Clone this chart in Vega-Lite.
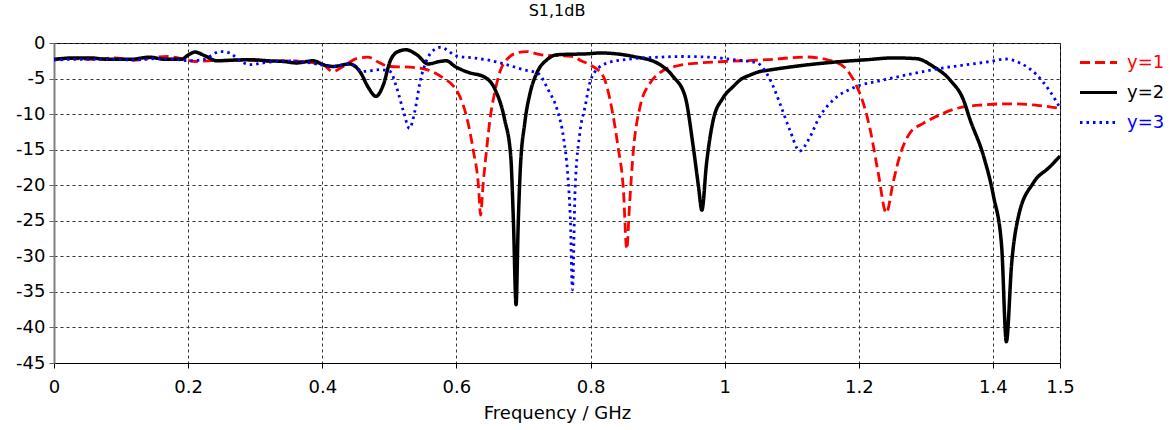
{
  "$schema": "https://vega.github.io/schema/vega-lite/v6.json",
  "width": 1006,
  "height": 320,
  "autosize": {"type": "none"},
  "padding": {"left": 54, "top": 43, "right": 113, "bottom": 67},
  "background": "white",
  "title": {"text": "S1,1dB", "fontSize": 16, "font": "DejaVu Sans", "fontWeight": "normal", "color": "black", "frame": "group", "anchor": "middle", "offset": 15},
  "config": {"view": {"stroke": "black", "strokeWidth": 1}, "font": "DejaVu Sans"},
  "data": {"values": [
    {"f": 0, "s": "y=1", "db": -2.3}, {"f": 0.03, "s": "y=1", "db": -2.2}, {"f": 0.06, "s": "y=1", "db": -2.3}, {"f": 0.09, "s": "y=1", "db": -2.1}, {"f": 0.12, "s": "y=1", "db": -2.4}, {"f": 0.15, "s": "y=1", "db": -2.0}, {"f": 0.17, "s": "y=1", "db": -1.9}, {"f": 0.19, "s": "y=1", "db": -2.2}, {"f": 0.21, "s": "y=1", "db": -2.6}, {"f": 0.23, "s": "y=1", "db": -2.5}, {"f": 0.26, "s": "y=1", "db": -2.4}, {"f": 0.29, "s": "y=1", "db": -2.4}, {"f": 0.32, "s": "y=1", "db": -2.6}, {"f": 0.35, "s": "y=1", "db": -2.5}, {"f": 0.38, "s": "y=1", "db": -2.7}, {"f": 0.4, "s": "y=1", "db": -3.0}, {"f": 0.416, "s": "y=1", "db": -4.0}, {"f": 0.431, "s": "y=1", "db": -3.3}, {"f": 0.451, "s": "y=1", "db": -2.2}, {"f": 0.468, "s": "y=1", "db": -2.0}, {"f": 0.486, "s": "y=1", "db": -2.8}, {"f": 0.5, "s": "y=1", "db": -3.3}, {"f": 0.531, "s": "y=1", "db": -3.4}, {"f": 0.556, "s": "y=1", "db": -3.75}, {"f": 0.58, "s": "y=1", "db": -4.9}, {"f": 0.595, "s": "y=1", "db": -6.0}, {"f": 0.605, "s": "y=1", "db": -7.5}, {"f": 0.615, "s": "y=1", "db": -10.3}, {"f": 0.625, "s": "y=1", "db": -15}, {"f": 0.633, "s": "y=1", "db": -20.2}, {"f": 0.636, "s": "y=1", "db": -24.2}, {"f": 0.64, "s": "y=1", "db": -19.7}, {"f": 0.645, "s": "y=1", "db": -15}, {"f": 0.65, "s": "y=1", "db": -10.8}, {"f": 0.658, "s": "y=1", "db": -6.6}, {"f": 0.665, "s": "y=1", "db": -4.0}, {"f": 0.675, "s": "y=1", "db": -2.35}, {"f": 0.69, "s": "y=1", "db": -1.4}, {"f": 0.705, "s": "y=1", "db": -1.2}, {"f": 0.725, "s": "y=1", "db": -1.65}, {"f": 0.774, "s": "y=1", "db": -1.9}, {"f": 0.786, "s": "y=1", "db": -2.5}, {"f": 0.799, "s": "y=1", "db": -3.05}, {"f": 0.819, "s": "y=1", "db": -4.7}, {"f": 0.831, "s": "y=1", "db": -8.9}, {"f": 0.841, "s": "y=1", "db": -14.6}, {"f": 0.849, "s": "y=1", "db": -20.6}, {"f": 0.854, "s": "y=1", "db": -29.0}, {"f": 0.858, "s": "y=1", "db": -23}, {"f": 0.864, "s": "y=1", "db": -15}, {"f": 0.874, "s": "y=1", "db": -8.9}, {"f": 0.889, "s": "y=1", "db": -5.6}, {"f": 0.903, "s": "y=1", "db": -4.2}, {"f": 0.93, "s": "y=1", "db": -3.2}, {"f": 0.963, "s": "y=1", "db": -2.8}, {"f": 1.0, "s": "y=1", "db": -2.6}, {"f": 1.063, "s": "y=1", "db": -2.35}, {"f": 1.122, "s": "y=1", "db": -1.97}, {"f": 1.162, "s": "y=1", "db": -2.6}, {"f": 1.182, "s": "y=1", "db": -3.75}, {"f": 1.197, "s": "y=1", "db": -6.1}, {"f": 1.204, "s": "y=1", "db": -7.7}, {"f": 1.217, "s": "y=1", "db": -12.2}, {"f": 1.229, "s": "y=1", "db": -18.3}, {"f": 1.241, "s": "y=1", "db": -23.9}, {"f": 1.251, "s": "y=1", "db": -19.7}, {"f": 1.261, "s": "y=1", "db": -15.9}, {"f": 1.276, "s": "y=1", "db": -12.7}, {"f": 1.296, "s": "y=1", "db": -11.3}, {"f": 1.321, "s": "y=1", "db": -10.1}, {"f": 1.346, "s": "y=1", "db": -9.2}, {"f": 1.386, "s": "y=1", "db": -8.7}, {"f": 1.42, "s": "y=1", "db": -8.55}, {"f": 1.46, "s": "y=1", "db": -8.7}, {"f": 1.5, "s": "y=1", "db": -9.2},

    {"f": 0, "s": "y=2", "db": -2.3}, {"f": 0.03, "s": "y=2", "db": -2.1}, {"f": 0.054, "s": "y=2", "db": -2.1}, {"f": 0.08, "s": "y=2", "db": -2.3}, {"f": 0.113, "s": "y=2", "db": -2.3}, {"f": 0.143, "s": "y=2", "db": -2.0}, {"f": 0.165, "s": "y=2", "db": -2.3}, {"f": 0.19, "s": "y=2", "db": -2.3}, {"f": 0.2, "s": "y=2", "db": -1.7}, {"f": 0.21, "s": "y=2", "db": -1.27}, {"f": 0.225, "s": "y=2", "db": -1.8}, {"f": 0.243, "s": "y=2", "db": -2.5}, {"f": 0.27, "s": "y=2", "db": -2.4}, {"f": 0.292, "s": "y=2", "db": -2.35}, {"f": 0.32, "s": "y=2", "db": -2.5}, {"f": 0.342, "s": "y=2", "db": -2.6}, {"f": 0.362, "s": "y=2", "db": -2.8}, {"f": 0.387, "s": "y=2", "db": -2.5}, {"f": 0.4, "s": "y=2", "db": -3.0}, {"f": 0.416, "s": "y=2", "db": -3.3}, {"f": 0.441, "s": "y=2", "db": -2.95}, {"f": 0.456, "s": "y=2", "db": -4.0}, {"f": 0.469, "s": "y=2", "db": -6.3}, {"f": 0.48, "s": "y=2", "db": -7.5}, {"f": 0.491, "s": "y=2", "db": -5.9}, {"f": 0.501, "s": "y=2", "db": -2.6}, {"f": 0.513, "s": "y=2", "db": -1.2}, {"f": 0.525, "s": "y=2", "db": -0.95}, {"f": 0.541, "s": "y=2", "db": -1.65}, {"f": 0.558, "s": "y=2", "db": -2.95}, {"f": 0.575, "s": "y=2", "db": -2.6}, {"f": 0.585, "s": "y=2", "db": -2.5}, {"f": 0.598, "s": "y=2", "db": -3.3}, {"f": 0.62, "s": "y=2", "db": -4.2}, {"f": 0.64, "s": "y=2", "db": -4.7}, {"f": 0.658, "s": "y=2", "db": -6.6}, {"f": 0.672, "s": "y=2", "db": -10.8}, {"f": 0.681, "s": "y=2", "db": -15.9}, {"f": 0.685, "s": "y=2", "db": -25}, {"f": 0.689, "s": "y=2", "db": -36.8}, {"f": 0.692, "s": "y=2", "db": -26}, {"f": 0.695, "s": "y=2", "db": -18.3}, {"f": 0.702, "s": "y=2", "db": -11.2}, {"f": 0.71, "s": "y=2", "db": -7.0}, {"f": 0.72, "s": "y=2", "db": -4.2}, {"f": 0.735, "s": "y=2", "db": -2.35}, {"f": 0.75, "s": "y=2", "db": -1.65}, {"f": 0.799, "s": "y=2", "db": -1.5}, {"f": 0.814, "s": "y=2", "db": -1.4}, {"f": 0.864, "s": "y=2", "db": -1.9}, {"f": 0.899, "s": "y=2", "db": -2.8}, {"f": 0.923, "s": "y=2", "db": -4.7}, {"f": 0.941, "s": "y=2", "db": -7.5}, {"f": 0.953, "s": "y=2", "db": -14.5}, {"f": 0.961, "s": "y=2", "db": -20.2}, {"f": 0.966, "s": "y=2", "db": -23.5}, {"f": 0.973, "s": "y=2", "db": -16.9}, {"f": 0.983, "s": "y=2", "db": -10.8}, {"f": 0.997, "s": "y=2", "db": -7.8}, {"f": 1.013, "s": "y=2", "db": -6.1}, {"f": 1.023, "s": "y=2", "db": -5.2}, {"f": 1.038, "s": "y=2", "db": -4.5}, {"f": 1.053, "s": "y=2", "db": -4.0}, {"f": 1.063, "s": "y=2", "db": -3.85}, {"f": 1.112, "s": "y=2", "db": -3.2}, {"f": 1.162, "s": "y=2", "db": -2.7}, {"f": 1.212, "s": "y=2", "db": -2.35}, {"f": 1.251, "s": "y=2", "db": -2.1}, {"f": 1.286, "s": "y=2", "db": -2.2}, {"f": 1.311, "s": "y=2", "db": -3.3}, {"f": 1.336, "s": "y=2", "db": -5.2}, {"f": 1.356, "s": "y=2", "db": -8.0}, {"f": 1.366, "s": "y=2", "db": -10.8}, {"f": 1.386, "s": "y=2", "db": -15.9}, {"f": 1.401, "s": "y=2", "db": -21.6}, {"f": 1.413, "s": "y=2", "db": -28.6}, {"f": 1.42, "s": "y=2", "db": -42}, {"f": 1.428, "s": "y=2", "db": -30.9}, {"f": 1.438, "s": "y=2", "db": -24.4}, {"f": 1.46, "s": "y=2", "db": -19.7}, {"f": 1.485, "s": "y=2", "db": -17.4}, {"f": 1.5, "s": "y=2", "db": -15.9},

    {"f": 0, "s": "y=3", "db": -2.4}, {"f": 0.03, "s": "y=3", "db": -2.3}, {"f": 0.06, "s": "y=3", "db": -2.3}, {"f": 0.09, "s": "y=3", "db": -2.3}, {"f": 0.12, "s": "y=3", "db": -2.4}, {"f": 0.15, "s": "y=3", "db": -2.2}, {"f": 0.18, "s": "y=3", "db": -2.3}, {"f": 0.203, "s": "y=3", "db": -2.5}, {"f": 0.222, "s": "y=3", "db": -2.35}, {"f": 0.248, "s": "y=3", "db": -1.2}, {"f": 0.262, "s": "y=3", "db": -1.4}, {"f": 0.277, "s": "y=3", "db": -2.5}, {"f": 0.292, "s": "y=3", "db": -3.05}, {"f": 0.312, "s": "y=3", "db": -2.8}, {"f": 0.342, "s": "y=3", "db": -2.5}, {"f": 0.367, "s": "y=3", "db": -2.6}, {"f": 0.397, "s": "y=3", "db": -3.05}, {"f": 0.416, "s": "y=3", "db": -3.3}, {"f": 0.441, "s": "y=3", "db": -2.95}, {"f": 0.461, "s": "y=3", "db": -4.0}, {"f": 0.486, "s": "y=3", "db": -3.75}, {"f": 0.501, "s": "y=3", "db": -4.0}, {"f": 0.511, "s": "y=3", "db": -6.3}, {"f": 0.521, "s": "y=3", "db": -9.6}, {"f": 0.53, "s": "y=3", "db": -12.0}, {"f": 0.538, "s": "y=3", "db": -9.6}, {"f": 0.546, "s": "y=3", "db": -5.4}, {"f": 0.556, "s": "y=3", "db": -2.35}, {"f": 0.566, "s": "y=3", "db": -1.0}, {"f": 0.576, "s": "y=3", "db": -0.6}, {"f": 0.6, "s": "y=3", "db": -1.8}, {"f": 0.625, "s": "y=3", "db": -2.1}, {"f": 0.65, "s": "y=3", "db": -2.45}, {"f": 0.675, "s": "y=3", "db": -3.05}, {"f": 0.7, "s": "y=3", "db": -3.75}, {"f": 0.722, "s": "y=3", "db": -4.3}, {"f": 0.737, "s": "y=3", "db": -6.6}, {"f": 0.75, "s": "y=3", "db": -9.3}, {"f": 0.76, "s": "y=3", "db": -13.5}, {"f": 0.766, "s": "y=3", "db": -18.5}, {"f": 0.77, "s": "y=3", "db": -25}, {"f": 0.773, "s": "y=3", "db": -34.7}, {"f": 0.777, "s": "y=3", "db": -20.6}, {"f": 0.784, "s": "y=3", "db": -12.7}, {"f": 0.792, "s": "y=3", "db": -8.9}, {"f": 0.799, "s": "y=3", "db": -5.6}, {"f": 0.812, "s": "y=3", "db": -3.5}, {"f": 0.829, "s": "y=3", "db": -2.7}, {"f": 0.854, "s": "y=3", "db": -2.3}, {"f": 0.9, "s": "y=3", "db": -2.0}, {"f": 0.938, "s": "y=3", "db": -1.9}, {"f": 0.98, "s": "y=3", "db": -2.0}, {"f": 1.013, "s": "y=3", "db": -2.35}, {"f": 1.048, "s": "y=3", "db": -2.8}, {"f": 1.068, "s": "y=3", "db": -5.2}, {"f": 1.082, "s": "y=3", "db": -8.4}, {"f": 1.097, "s": "y=3", "db": -12.2}, {"f": 1.112, "s": "y=3", "db": -15.2}, {"f": 1.125, "s": "y=3", "db": -13.6}, {"f": 1.142, "s": "y=3", "db": -10.3}, {"f": 1.162, "s": "y=3", "db": -8.0}, {"f": 1.192, "s": "y=3", "db": -6.3}, {"f": 1.237, "s": "y=3", "db": -5.2}, {"f": 1.286, "s": "y=3", "db": -4.2}, {"f": 1.326, "s": "y=3", "db": -3.5}, {"f": 1.361, "s": "y=3", "db": -3.05}, {"f": 1.396, "s": "y=3", "db": -2.6}, {"f": 1.418, "s": "y=3", "db": -2.25}, {"f": 1.44, "s": "y=3", "db": -2.8}, {"f": 1.465, "s": "y=3", "db": -4.45}, {"f": 1.485, "s": "y=3", "db": -6.8}, {"f": 1.5, "s": "y=3", "db": -9.1}
  ]},
  "mark": {"type": "line", "interpolate": "monotone", "clip": true, "strokeJoin": "round"},
  "encoding": {
    "x": {
      "field": "f", "type": "quantitative",
      "scale": {"domain": [0, 1.5], "nice": false, "zero": false},
      "axis": {
        "values": [0, 0.2, 0.4, 0.6, 0.8, 1, 1.2, 1.4, 1.5],
        "labelExpr": "'' + datum.value",
        "title": "Frequency / GHz",
        "grid": true, "gridDash": [3, 3], "gridColor": "#333333", "gridWidth": 1, "gridOpacity": 1,
        "domainColor": "black", "domainWidth": 1,
        "tickColor": "black", "tickSize": 5, "tickWidth": 1,
        "labelFont": "DejaVu Sans", "labelFontSize": 18, "labelColor": "black",
        "labelFlush": false, "labelOverlap": false, "labelPadding": 10,
        "titleFont": "DejaVu Sans", "titleFontSize": 18, "titleFontWeight": "normal", "titleColor": "black", "titlePadding": 8
      }
    },
    "y": {
      "field": "db", "type": "quantitative",
      "scale": {"domain": [-45, 0], "nice": false, "zero": false},
      "axis": {
        "values": [-45, -40, -35, -30, -25, -20, -15, -10, -5, 0],
        "labelExpr": "'' + datum.value",
        "title": null,
        "grid": true, "gridDash": [3, 3], "gridColor": "#333333", "gridWidth": 1, "gridOpacity": 1,
        "domainColor": "#808080", "domainWidth": 2,
        "tickColor": "#606060", "tickSize": 5, "tickWidth": 1,
        "labelFont": "DejaVu Sans", "labelFontSize": 18, "labelColor": "black",
        "labelFlush": false, "labelOverlap": false, "labelPadding": 4
      }
    },
    "color": {
      "field": "s", "type": "nominal",
      "scale": {"domain": ["y=1", "y=2", "y=3"], "range": ["#ff0000", "#000000", "#0000ff"]},
      "legend": {
        "title": null, "orient": "none", "legendX": 1024, "legendY": -1,
        "symbolType": "stroke", "symbolSize": 1369, "symbolStrokeWidth": 3.2,
        "labelFont": "DejaVu Sans", "labelFontSize": 18,
        "labelColor": {"expr": "datum.value === 'y=1' ? '#ff0000' : datum.value === 'y=2' ? '#000000' : '#0000ff'"},
        "labelOffset": 8, "rowPadding": -7, "padding": 0
      }
    },
    "strokeDash": {
      "field": "s", "type": "nominal",
      "scale": {"domain": ["y=1", "y=2", "y=3"], "range": [[10, 5], [1, 0], [2.5, 4]]},
      "legend": {
        "title": null, "orient": "none", "legendX": 1024, "legendY": -1,
        "symbolType": "stroke", "symbolSize": 1369, "symbolStrokeWidth": 3.2,
        "labelFont": "DejaVu Sans", "labelFontSize": 18,
        "labelColor": {"expr": "datum.value === 'y=1' ? '#ff0000' : datum.value === 'y=2' ? '#000000' : '#0000ff'"},
        "labelOffset": 8, "rowPadding": -7, "padding": 0
      }
    },
    "strokeWidth": {"condition": {"test": "datum.s === 'y=2'", "value": 3.5}, "value": 2.8}
  }
}
